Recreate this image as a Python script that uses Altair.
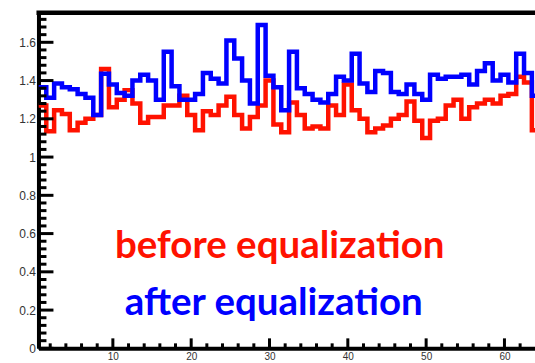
import altair as alt
import pandas as pd

# ---- data -------------------------------------------------------------
bins = list(range(1, 65))
before = [1.27, 1.135, 1.245, 1.225, 1.14, 1.18, 1.20, 1.22, 1.46, 1.26,
          1.30, 1.35, 1.28, 1.18, 1.21, 1.21, 1.27, 1.27, 1.32, 1.22,
          1.14, 1.24, 1.22, 1.27, 1.315, 1.22, 1.15, 1.21, 1.27, 1.40,
          1.17, 1.13, 1.285, 1.22, 1.15, 1.16, 1.15, 1.27, 1.22, 1.38,
          1.245, 1.20, 1.13, 1.15, 1.165, 1.20, 1.22, 1.29, 1.19, 1.10,
          1.19, 1.20, 1.27, 1.30, 1.20, 1.26, 1.28, 1.30, 1.28, 1.32,
          1.33, 1.42, 1.39, 1.14]
after = [1.365, 1.31, 1.385, 1.365, 1.355, 1.33, 1.31, 1.22, 1.435, 1.38,
         1.335, 1.32, 1.40, 1.43, 1.40, 1.30, 1.55, 1.37, 1.30, 1.30,
         1.33, 1.44, 1.41, 1.385, 1.61, 1.515, 1.40, 1.28, 1.69, 1.425,
         1.365, 1.245, 1.55, 1.36, 1.33, 1.30, 1.285, 1.33, 1.42, 1.40,
         1.54, 1.385, 1.34, 1.45, 1.44, 1.34, 1.33, 1.38, 1.33, 1.30,
         1.43, 1.41, 1.42, 1.42, 1.43, 1.38, 1.45, 1.49, 1.40, 1.43,
         1.39, 1.54, 1.44, 1.32]

x_major = [10, 20, 30, 40, 50, 60]
x_minor = [2, 4, 6, 8, 12, 14, 16, 18, 22, 24, 26, 28, 32, 34, 36, 38,
           42, 44, 46, 48, 52, 54, 56, 58, 62]
y_major = [0, 0.2, 0.4, 0.6, 0.8, 1.0, 1.2, 1.4, 1.6]
y_minor = [0.04, 0.08, 0.12, 0.16, 0.24, 0.28, 0.32, 0.36, 0.44, 0.48,
           0.52, 0.56, 0.64, 0.68, 0.72, 0.76, 0.84, 0.88, 0.92, 0.96,
           1.04, 1.08, 1.12, 1.16, 1.24, 1.28, 1.32, 1.36, 1.44, 1.48,
           1.52, 1.56, 1.64, 1.68, 1.72]
labels = ["before equalization", "after equalization"]

# ---- layout -----------------------------------------------------------
W, H = 497, 336
RED = "#ff1200"
BLUE = "#0000ff"

xs = alt.Scale(domain=[0.5, 63.9], nice=False, zero=False)
ys = alt.Scale(domain=[0, 1.755], nice=False, zero=False)


def step_df(vals):
    rows = [{"x": b - 0.5, "v": v} for b, v in zip(bins, vals)]
    rows.append({"x": bins[-1] + 0.5, "v": vals[-1]})
    return pd.DataFrame(rows)


x_axis = alt.Axis(values=x_major, ticks=False, tickSize=0, grid=False, title=None,
                  domainColor="black", domainWidth=4, labelFontSize=10,
                  labelFont="Liberation Sans", labelColor="#333333",
                  labelPadding=3, format="d")
y_axis = alt.Axis(values=y_major, ticks=False, tickSize=0, grid=False, title=None,
                  domainColor="black", domainWidth=4, labelFontSize=12,
                  labelFont="Liberation Sans", labelColor="#333333",
                  labelPadding=3, format="~g")

red_line = alt.Chart(step_df(before)).mark_line(
    interpolate="step-after", color=RED, strokeWidth=4.5, clip=True
).encode(x=alt.X("x:Q", scale=xs, axis=x_axis), y=alt.Y("v:Q", scale=ys, axis=y_axis))

blue_line = alt.Chart(step_df(after)).mark_line(
    interpolate="step-after", color=BLUE, strokeWidth=4.5, clip=True
).encode(x=alt.X("x:Q", scale=xs, axis=x_axis), y=alt.Y("v:Q", scale=ys, axis=y_axis))

ymaj = alt.Chart(pd.DataFrame({"v": y_major})).mark_rule(color="black", strokeWidth=3).encode(
    y=alt.Y("v:Q", scale=ys, axis=y_axis), x=alt.value(0), x2=alt.value(15))
ymin = alt.Chart(pd.DataFrame({"v": y_minor})).mark_rule(color="black", strokeWidth=3).encode(
    y=alt.Y("v:Q", scale=ys, axis=y_axis), x=alt.value(0), x2=alt.value(8))
xmaj = alt.Chart(pd.DataFrame({"x": x_major})).mark_rule(color="black", strokeWidth=3).encode(
    x=alt.X("x:Q", scale=xs, axis=x_axis), y=alt.value(H), y2=alt.value(H - 10))
xmin = alt.Chart(pd.DataFrame({"x": x_minor})).mark_rule(color="black", strokeWidth=3).encode(
    x=alt.X("x:Q", scale=xs, axis=x_axis), y=alt.value(H), y2=alt.value(H - 5))

top = alt.Chart(pd.DataFrame({"a": [0]})).mark_rule(color="black", strokeWidth=4.5).encode(
    x=alt.value(-2), x2=alt.value(W), y=alt.value(0))

txt_before = alt.Chart(pd.DataFrame({"t": [labels[0]]})).mark_text(
    font="Lato", fontWeight="bold", fontSize=38.5, color=RED, align="center",
    baseline="alphabetic"
).encode(text="t:N", x=alt.value(280 - 38.5), y=alt.value(258 - 12.5))

txt_after = alt.Chart(pd.DataFrame({"t": [labels[1]]})).mark_text(
    font="Lato", fontWeight="bold", fontSize=38.5, color=BLUE, align="center",
    baseline="alphabetic"
).encode(text="t:N", x=alt.value(274 - 38.5), y=alt.value(315 - 12.5))

chart = alt.layer(
    red_line, blue_line, ymaj, ymin, xmaj, xmin, top, txt_before, txt_after
).properties(
    width=W, height=H,
    padding={"left": 38.5, "top": 12.5, "right": 0, "bottom": 14.5},
    autosize=alt.AutoSizeParams(type="none"),
    background="white",
).configure_view(stroke=None)

chart.save("out.html", embed_options={"renderer": "svg", "actions": False})
